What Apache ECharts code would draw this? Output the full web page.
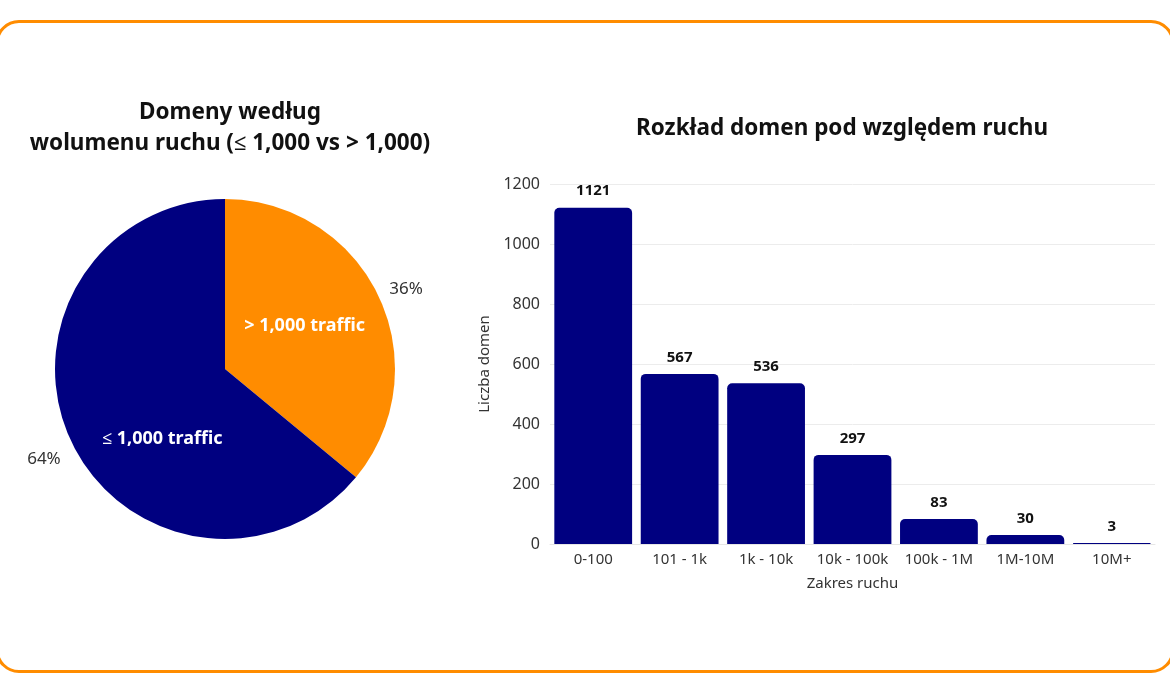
<!DOCTYPE html>
<html>
<head>
<meta charset="utf-8">
<style>
html,body{margin:0;padding:0;background:#fff;}
#chart{width:1170px;height:694px;}
</style>
<script src="https://cdn.jsdelivr.net/npm/echarts@6/dist/echarts.min.js"></script>
</head>
<body>
<div id="chart"></div>
<script>
// ---- data ----
const pieTitle = 'Domeny według\nwolumenu ruchu (≤ 1,000 vs > 1,000)';
const pieNames = ['> 1,000 traffic', '≤ 1,000 traffic'];
const pieValues = [36, 64];
const pieColors = ['#FF8C00', '#000080'];

const barTitle = 'Rozkład domen pod względem ruchu';
const barCategories = ['0-100', '101 - 1k', '1k - 10k', '10k - 100k', '100k - 1M', '1M-10M', '10M+'];
const barValues = [1121, 567, 536, 297, 83, 30, 3];
const yAxisName = 'Liczba domen';
const xAxisName = 'Zakres ruchu';

const FONT = 'Noto Sans';
const chart = echarts.init(document.getElementById('chart'));

const innerFmt = p => p.dataIndex === 1
  ? '{sp|}\n{w|}{t|' + p.name + '}'
  : '{t|' + p.name + '}\n{sp2|}';
const outerFmt = p => p.dataIndex === 1
  ? '{sp|}\n{t|' + Math.round(p.percent) + '%}'
  : '{t|' + Math.round(p.percent) + '%}\n{sp2|}';

chart.setOption({
  animation: false,
  title: [
    { text: pieTitle, left: 225, top: 92, textAlign: 'center',
      textStyle: { fontFamily: FONT, fontSize: 22.5, fontWeight: 'bold', color: '#111', lineHeight: 31 } },
    { text: barTitle, left: 837, top: 112, textAlign: 'center',
      textStyle: { fontFamily: FONT, fontSize: 22.5, fontWeight: 'bold', color: '#111' } }
  ],
  graphic: [{
    type: 'rect', silent: true, z: -1,
    shape: { x: -3, y: 21.5, width: 1176, height: 650, r: 22 },
    style: { fill: 'none', stroke: '#FF8C00', lineWidth: 3 }
  }],
  grid: { left: 550, right: 15, top: 184, bottom: 150 },
  xAxis: {
    type: 'category', data: barCategories,
    name: xAxisName, nameLocation: 'middle', nameGap: 32,
    nameTextStyle: { fontFamily: FONT, fontSize: 15, color: '#333' },
    axisLine: { show: true, lineStyle: { color: '#e6e6e6' } },
    axisTick: { show: false },
    axisLabel: { fontFamily: FONT, fontSize: 15, color: '#333', margin: 8, interval: 0 }
  },
  yAxis: {
    type: 'value', min: 0, max: 1200, interval: 200,
    name: yAxisName, nameLocation: 'middle', nameGap: 47, nameRotate: 90,
    nameTextStyle: { fontFamily: FONT, fontSize: 15, color: '#333' },
    axisLine: { show: false }, axisTick: { show: false },
    axisLabel: { fontFamily: FONT, fontSize: 16, color: '#333', margin: 10, formatter: v => String(v) },
    splitLine: { lineStyle: { color: '#ececec' } }
  },
  series: [
    {
      type: 'bar', data: barValues, barCategoryGap: '10%',
      itemStyle: { color: '#000080', borderRadius: [5, 5, 0, 0] },
      label: { show: true, position: 'top', distance: 9,
        fontFamily: FONT, fontSize: 15, fontWeight: 'bold', color: '#111' }
    },
    {
      type: 'pie', center: [225, 369], radius: 170, startAngle: 90, clockwise: true,
      data: pieNames.map((n, i) => ({ name: n, value: pieValues[i], itemStyle: { color: pieColors[i] } })),
      silent: true,
      label: { show: true, position: 'inside', formatter: innerFmt,
        rich: {
          t: { fontFamily: FONT, fontSize: 18, fontWeight: 'bold', color: '#fff', lineHeight: 24 },
          sp: { height: 64, lineHeight: 64 },
          sp2: { height: 12, lineHeight: 12 },
          w: { width: 34 }
        } },
      labelLine: { show: false }
    },
    {
      type: 'pie', center: [225, 369], radius: 170, startAngle: 90, clockwise: true,
      data: pieNames.map((n, i) => ({ name: n, value: pieValues[i] })),
      silent: true, z: 1,
      itemStyle: { color: 'rgba(0,0,0,0)' },
      label: { show: true, position: 'outside', formatter: outerFmt,
        rich: {
          t: { fontFamily: FONT, fontSize: 17, color: '#333', lineHeight: 22 },
          sp: { height: 30, lineHeight: 30 },
          sp2: { height: 10, lineHeight: 10 }
        } },
      labelLine: { show: false, length: 6, length2: 0 }
    }
  ]
});
</script>
</body>
</html>
